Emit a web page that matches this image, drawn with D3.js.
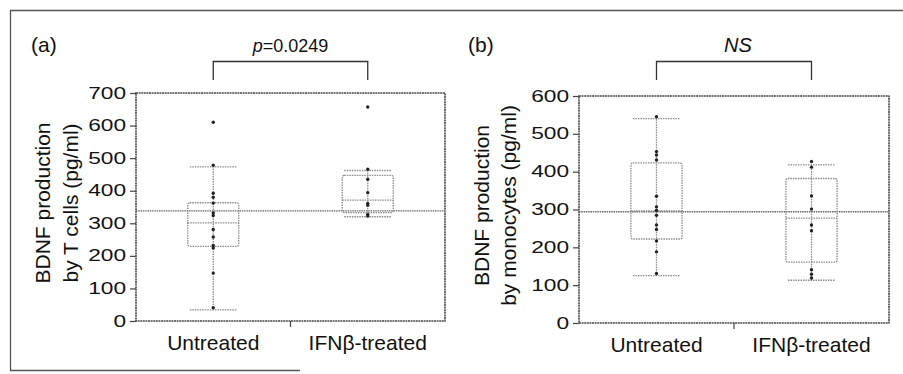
<!DOCTYPE html>
<html>
<head>
<meta charset="utf-8">
<script src="https://cdn.jsdelivr.net/npm/d3@7"></script>
<style>
  body { margin: 0; background: #fff; }
  text { font-family: "Liberation Sans", Arial, sans-serif; fill: #111; }
</style>
</head>
<body>
<svg id="drawing_region"></svg>
<script>
// categories and tick labels
const categories = ["Untreated", "IFNβ-treated"];
const tcellTicks = [0, 100, 200, 300, 400, 500, 600, 700];
const monoTicks = [0, 100, 200, 300, 400, 500, 600];

// (a) BDNF by T cells
const tcellPoints = [
    [610, 478, 392, 380, 362, 332, 324, 281, 258, 232, 224, 147, 41],
    [657, 466, 435, 394, 361, 355, 327, 322]
];
const tcellQ1 = [229, 333];
const tcellMedian = [301, 371];
const tcellQ3 = [363, 447];
const tcellLow = [34, 320];
const tcellHigh = [473, 462];
const tcellMean = 338;

// (b) BDNF by monocytes
const monoPoints = [
    [545, 453, 444, 431, 335, 307, 298, 285, 259, 247, 217, 188, 131],
    [427, 412, 336, 301, 259, 244, 141, 129, 119]
];
const monoQ1 = [222, 161];
const monoMedian = [296, 277];
const monoQ3 = [423, 382];
const monoLow = [125, 113];
const monoHigh = [540, 418];
const monoMean = 294;

const panelLetters = ["(a)", "(b)"];
const statLabels = ["p=0.0249", "NS"];

const svg = d3.select('#drawing_region')
    .attr('width', 903)
    .attr('height', 374);

// outer frame (top, left, partial bottom)
svg.append('path')
    .attr('d', 'M903,10.5 H10.5 V370.5 H300')
    .attr('fill', 'none')
    .attr('stroke', '#555')
    .attr('stroke-width', 1.3);

function drawPanel(cfg) {
    const g = svg.append('g');

    const xscale = d3.scaleBand()
        .domain(categories)
        .range([cfg.left, cfg.right]);

    const yscale = d3.scaleLinear()
        .domain([0, cfg.ymax])
        .range([cfg.bottom, cfg.top]);

    const boxW = xscale.bandwidth() * 0.33;
    const capW = boxW * 0.92;

    // y axis
    const yaxis = d3.axisLeft(yscale)
        .tickValues(cfg.ticks)
        .tickSize(6)
        .tickSizeOuter(0)
        .tickPadding(0);

    const ya = g.append('g')
        .attr('transform', `translate(${cfg.left},0)`)
        .call(yaxis);
    ya.select('.domain').remove();
    ya.selectAll('line').attr('stroke', '#444').attr('stroke-width', 1.2);
    ya.selectAll('text')
        .attr('font-size', 16)
        .attr('fill', '#111')
        .attr('x', -10 / 1.42)
        .attr('transform', 'scale(1.42,1)');

    // plot frame
    g.append('rect')
        .attr('x', cfg.left)
        .attr('y', cfg.top)
        .attr('width', cfg.right - cfg.left)
        .attr('height', cfg.bottom - cfg.top)
        .attr('fill', 'none')
        .attr('stroke', '#4a4a4a')
        .attr('stroke-width', 1.6)
        .attr('stroke-dasharray', '2,0.6');

    // x axis: one tick between the categories
    const midX = (xscale.range()[0] + xscale.range()[1]) / 2;
    g.append('line')
        .attr('x1', midX).attr('x2', midX)
        .attr('y1', cfg.bottom).attr('y2', cfg.bottom + 6)
        .attr('stroke', '#444').attr('stroke-width', 1.2);

    g.selectAll('.xlabel').data(categories).enter()
        .append('text')
        .attr('class', 'xlabel')
        .attr('x', d => xscale(d) + xscale.bandwidth() / 2)
        .attr('y', cfg.bottom + 29)
        .attr('text-anchor', 'middle')
        .attr('font-size', 21)
        .text(d => d);

    // mean reference line
    g.append('line')
        .attr('x1', cfg.left).attr('x2', cfg.right)
        .attr('y1', yscale(cfg.mean)).attr('y2', yscale(cfg.mean))
        .attr('stroke', '#666').attr('stroke-width', 1.3)
        .attr('stroke-dasharray', '1.5,0.8');

    const cx = i => xscale(categories[i]) + xscale.bandwidth() / 2;
    const dotted = sel => sel.attr('stroke', '#8a8a8a').attr('stroke-width', 1.3)
        .attr('stroke-dasharray', '1.5,1').attr('fill', 'none');

    categories.forEach((c, i) => {
        // whisker line
        g.append('line')
            .attr('x1', cx(i)).attr('x2', cx(i))
            .attr('y1', yscale(cfg.low[i])).attr('y2', yscale(cfg.high[i]))
            .call(dotted);
        // caps
        [cfg.low[i], cfg.high[i]].forEach(v => {
            g.append('line')
                .attr('x1', cx(i) - capW / 2).attr('x2', cx(i) + capW / 2)
                .attr('y1', yscale(v)).attr('y2', yscale(v))
                .call(dotted);
        });
        // box
        g.append('rect')
            .attr('x', cx(i) - boxW / 2)
            .attr('y', yscale(cfg.q3[i]))
            .attr('width', boxW)
            .attr('height', yscale(cfg.q1[i]) - yscale(cfg.q3[i]))
            .attr('rx', 2)
            .call(dotted);
        // median
        g.append('line')
            .attr('x1', cx(i) - boxW / 2).attr('x2', cx(i) + boxW / 2)
            .attr('y1', yscale(cfg.median[i])).attr('y2', yscale(cfg.median[i]))
            .call(dotted);
        // points
        g.selectAll(`.pt${i}`).data(cfg.points[i]).enter()
            .append('circle')
            .attr('class', `pt${i}`)
            .attr('cx', cx(i))
            .attr('cy', d => yscale(d))
            .attr('r', 1.7)
            .attr('fill', '#222');
    });

    // y label, two lines
    const ymid = (cfg.top + cfg.bottom) / 2 - 4;
    cfg.ylabel.forEach((t, k) => {
        g.append('text')
            .attr('transform', `translate(${cfg.left - cfg.ylabelOffset[k]},${ymid}) rotate(-90)`)
            .attr('text-anchor', 'middle')
            .attr('dominant-baseline', 'central')
            .attr('font-size', 21)
            .text(t);
    });

    // panel letter
    g.append('text')
        .attr('x', cfg.letterX)
        .attr('y', 52)
        .attr('font-size', 21)
        .text(cfg.letter);

    // significance bracket
    const x0 = cx(0), x1 = cx(1);
    g.append('path')
        .attr('d', `M${x0},80 V61.5 H${x1} V80`)
        .attr('fill', 'none')
        .attr('stroke', '#333')
        .attr('stroke-width', 1.3);

    const st = g.append('text')
        .attr('x', (x0 + x1) / 2 + cfg.statShift)
        .attr('y', 52)
        .attr('text-anchor', 'middle')
        .attr('font-size', cfg.statSize);
    if (cfg.stat.startsWith('p=')) {
        st.append('tspan').attr('font-style', 'italic').text('p');
        st.append('tspan').text(cfg.stat.slice(1));
    } else {
        st.attr('font-style', 'italic').text(cfg.stat);
    }
}

drawPanel({
    left: 136, right: 445, top: 93, bottom: 321, ymax: 700,
    ticks: tcellTicks, points: tcellPoints,
    q1: tcellQ1, median: tcellMedian, q3: tcellQ3,
    low: tcellLow, high: tcellHigh, mean: tcellMean,
    ylabel: ["BDNF production", "by T cells (pg/ml)"],
    ylabelOffset: [94, 66],
    letter: panelLetters[0], letterX: 31,
    stat: statLabels[0], statSize: 18, statShift: 0
});

drawPanel({
    left: 579, right: 889, top: 96, bottom: 323, ymax: 600,
    ticks: monoTicks, points: monoPoints,
    q1: monoQ1, median: monoMedian, q3: monoQ3,
    low: monoLow, high: monoHigh, mean: monoMean,
    ylabel: ["BDNF production", "by monocytes (pg/ml)"],
    ylabelOffset: [98, 71],
    letter: panelLetters[1], letterX: 468,
    stat: statLabels[1], statSize: 20, statShift: 4
});
</script>
</body>
</html>
